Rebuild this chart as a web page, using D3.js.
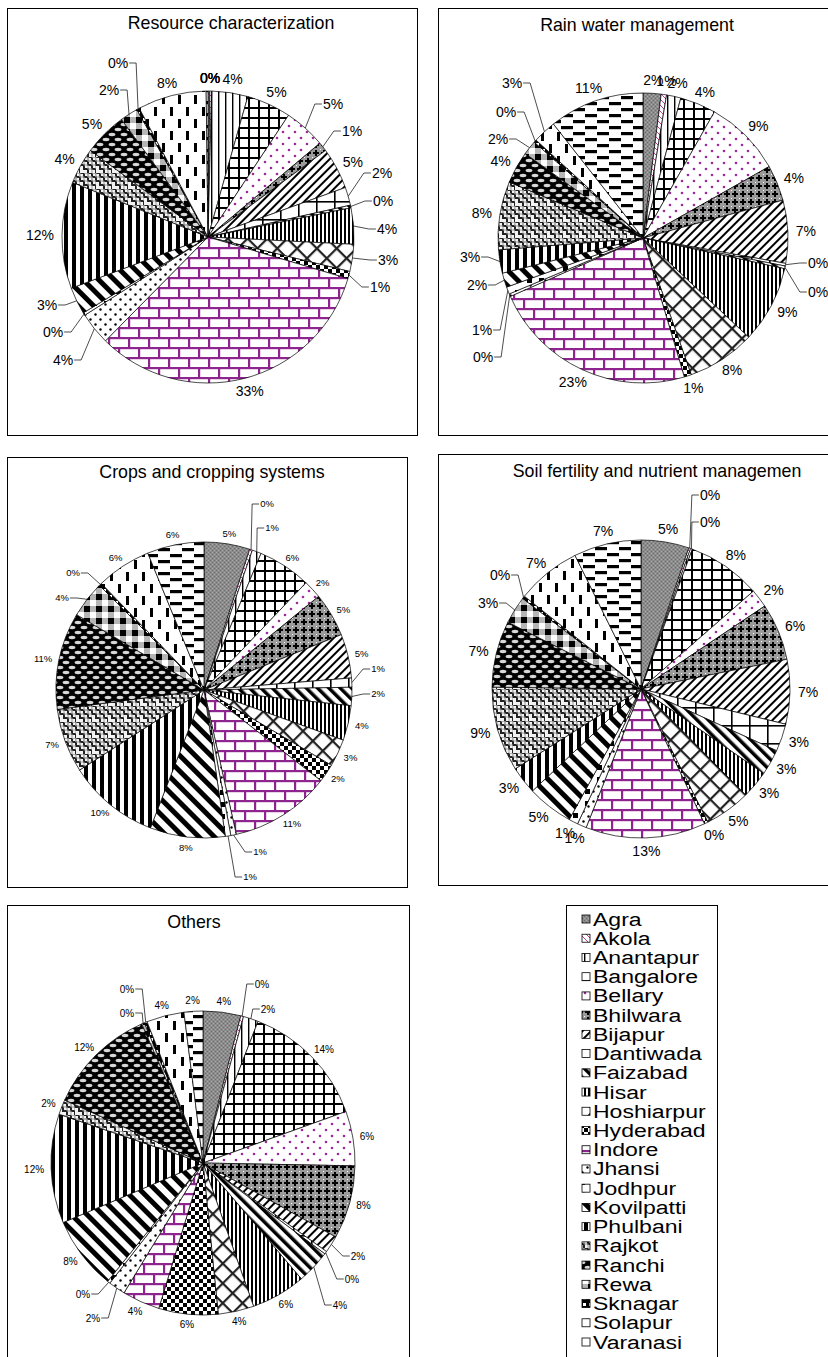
<!DOCTYPE html>
<html>
<head>
<meta charset="utf-8">
<script src="https://cdn.jsdelivr.net/npm/d3@7"></script>
<style>
  body { margin: 0; background: #fff; }
  svg { display: block; }
  text { font-family: "Liberation Sans", Arial, sans-serif; fill: #000; }
</style>
</head>
<body>
<svg id="chart" width="828" height="1357"></svg>
<script>
// Research stations (legend order = slice order, clockwise from 12 o'clock)
const categories = [
  "Agra", "Akola", "Anantapur", "Bangalore", "Bellary", "Bhilwara", "Bijapur",
  "Dantiwada", "Faizabad", "Hisar", "Hoshiarpur", "Hyderabad", "Indore", "Jhansi",
  "Jodhpur", "Kovilpatti", "Phulbani", "Rajkot", "Ranchi", "Rewa", "Sknagar",
  "Solapur", "Varanasi"
];

const chartTitles = [
  "Resource characterization",
  "Rain water management",
  "Crops and cropping systems",
  "Soil fertility and nutrient managemen",
  "Others"
];

// Share of each station (%) per theme
const resourceShares = [0.2, 0.2, 4.0, 4.9, 4.6, 1.0, 4.6, 2.0, 0.3, 4.0, 3.0, 0.8, 32.8, 3.6, 0.3, 3.0, 11.8, 4.0, 4.8, 2.0, 0.3, 7.6, 0.2];
const rainWaterShares = [2.0, 0.6, 1.6, 4.0, 8.6, 4.0, 7.0, 0.3, 0.3, 8.6, 7.6, 0.8, 23.0, 0.3, 0.8, 1.6, 2.6, 7.6, 3.6, 1.6, 0.3, 2.6, 10.6];
const cropShares      = [5.0, 0.3, 1.0, 5.8, 2.0, 4.8, 4.8, 1.0, 2.0, 3.8, 3.0, 2.0, 11.0, 0.6, 0.6, 8.2, 10.0, 7.0, 10.6, 4.0, 0.3, 6.0, 6.2];
const soilShares      = [5.2, 0.2, 0.2, 8.0, 2.0, 6.2, 7.0, 3.0, 2.8, 3.0, 5.0, 0.4, 13.0, 1.0, 1.0, 5.0, 3.0, 9.2, 7.2, 3.0, 0.3, 7.0, 7.3];
const otherShares     = [4.0, 0.3, 1.6, 13.6, 5.8, 7.8, 1.8, 0.3, 3.6, 5.8, 3.8, 6.3, 4.0, 1.8, 0.3, 7.8, 11.6, 1.6, 11.6, 0.3, 0.3, 4.0, 2.0];

const svg = d3.select("#chart");
const defs = svg.append("defs");

// ---------- fill patterns, one per station ----------
function pattern(name, w, h, draw, transform) {
  const p = defs.append("pattern")
    .attr("id", "pat-" + name)
    .attr("patternUnits", "userSpaceOnUse")
    .attr("width", w).attr("height", h);
  if (transform) p.attr("patternTransform", transform);
  draw(p);
}
const bg = (p, w, h, c) => p.append("rect").attr("width", w).attr("height", h).attr("fill", c);
const box = (p, x, y, w, h, c) => p.append("rect").attr("x", x).attr("y", y).attr("width", w).attr("height", h).attr("fill", c);
const dot = (p, x, y, r, c) => p.append("circle").attr("cx", x).attr("cy", y).attr("r", r).attr("fill", c);
const PURPLE = "#8e248e";

pattern("Agra", 4, 4, p => { bg(p, 4, 4, "#8c8c8c"); box(p, 0, 0, 1, 1, "#6a6a6a"); box(p, 2, 2, 1, 1, "#6a6a6a"); box(p, 2, 0, 1, 1, "#a8a8a8"); box(p, 0, 2, 1, 1, "#a8a8a8"); });
pattern("Akola", 6, 6, p => { bg(p, 6, 6, "#fff"); p.append("path").attr("d", "M0,0L6,6").attr("stroke", "#c03a9a").attr("stroke-width", 1); });
pattern("Anantapur", 7, 7, p => { bg(p, 7, 7, "#fff"); box(p, 3, 0, 1.4, 7, "#000"); });
pattern("Bangalore", 10, 10, p => { bg(p, 10, 10, "#fff"); box(p, 0, 0, 10, 2, "#000"); box(p, 0, 0, 2, 10, "#000"); });
pattern("Bellary", 12, 12, p => { bg(p, 12, 12, "#fff"); dot(p, 3, 3, 1.3, "#9c2a9c"); dot(p, 9, 9, 1.3, "#9c2a9c"); });
pattern("Bhilwara", 8, 8, p => { bg(p, 8, 8, "#9a9a9a"); box(p, 3, 1, 2, 6, "#000"); box(p, 1, 3, 6, 2, "#000"); box(p, 0, 0, 1, 1, "#fff"); });
pattern("Bijapur", 6, 6, p => { bg(p, 6, 6, "#fff"); box(p, 0, 0, 2, 6, "#000"); }, "rotate(45)");
pattern("Dantiwada", 18, 18, p => { bg(p, 18, 18, "#fff"); box(p, 0, 0, 18, 1.6, "#000"); box(p, 0, 0, 1.6, 18, "#000"); });
pattern("Faizabad", 8, 8, p => { bg(p, 8, 8, "#fff"); box(p, 0, 0, 3.5, 8, "#000"); }, "rotate(-45)");
pattern("Hisar", 4, 4, p => { bg(p, 4, 4, "#fff"); box(p, 0, 0, 2, 4, "#000"); });
pattern("Hoshiarpur", 14, 14, p => { bg(p, 14, 14, "#fff"); box(p, 0, 0, 14, 2.2, "#222"); box(p, 0, 0, 2.2, 14, "#222"); }, "rotate(45)");
pattern("Hyderabad", 8, 8, p => { bg(p, 8, 8, "#fff"); box(p, 0, 0, 4, 4, "#000"); box(p, 4, 4, 4, 4, "#000"); });
pattern("Indore", 20, 20, p => {
  bg(p, 20, 20, "#fff");
  box(p, 0, 0, 20, 2.2, PURPLE); box(p, 0, 10, 20, 2.2, PURPLE);
  box(p, 0, 0, 2.2, 10, PURPLE); box(p, 10, 10, 2.2, 10, PURPLE);
});
pattern("Jhansi", 10, 10, p => { bg(p, 10, 10, "#fff"); dot(p, 2.5, 2.5, 1.2, "#000"); dot(p, 7.5, 7.5, 1.2, "#000"); });
pattern("Jodhpur", 12, 12, p => { bg(p, 12, 12, "#fff"); box(p, 4, 4, 5, 5, "#000"); });
pattern("Kovilpatti", 11, 11, p => { bg(p, 11, 11, "#fff"); box(p, 0, 0, 5, 11, "#000"); }, "rotate(-45)");
pattern("Phulbani", 8, 8, p => { bg(p, 8, 8, "#fff"); box(p, 0, 0, 4, 8, "#000"); });
pattern("Rajkot", 16, 16, p => {
  bg(p, 16, 16, "#f2f2f2");
  const stair = "h4v4h4v4h4v4h4v4";
  ["M0,0", "M-8,0", "M8,0", "M0,-8", "M-8,-8", "M8,-8"].forEach(s =>
    p.append("path").attr("d", s + stair).attr("fill", "none").attr("stroke", "#222").attr("stroke-width", 2));
  ["M4,0", "M-4,0", "M12,0", "M-4,-8", "M4,-8"].forEach(s =>
    p.append("path").attr("d", s + stair).attr("fill", "none").attr("stroke", "#9a9a9a").attr("stroke-width", 1));
});
pattern("Ranchi", 12, 10, p => {
  bg(p, 12, 10, "#000");
  [[6, 2.5], [0, 7.5], [12, 7.5]].forEach(([x, y]) =>
    p.append("ellipse").attr("cx", x).attr("cy", y).attr("rx", 3.4).attr("ry", 1.7).attr("fill", "#d8d8d8"));
});
pattern("Rewa", 12, 12, p => { bg(p, 12, 12, "#b5b5b5"); box(p, 0, 0, 6, 6, "#000"); box(p, 6, 6, 6, 6, "#fff"); });
pattern("Sknagar", 6, 6, p => { bg(p, 6, 6, "#000"); box(p, 1, 1, 3, 3, "#fff"); });
pattern("Solapur", 16, 24, p => { bg(p, 16, 24, "#fff"); box(p, 2, 2, 3, 9, "#000"); box(p, 10, 14, 3, 9, "#000"); });
pattern("Varanasi", 24, 12, p => { bg(p, 24, 12, "#fff"); box(p, 2, 2, 12, 3.2, "#000"); box(p, 14, 8, 12, 3.2, "#000"); box(p, -10, 8, 12, 3.2, "#000"); });

// ---------- panel layout ----------
// "leaders": labels moved off their slice, joined by a leader line.
// "spots": labels placed at a fixed spot without a leader line.
const panels = [
  { title: chartTitles[0], values: resourceShares, frame: [7, 8, 410, 427], tx: 231, ty: 29,
    cx: 208, cy: 237, r: 146, font: 14, pad: 8,
    spots: { Agra: [210, 78], Akola: [210, 78], Varanasi: [210, 78] },
    leaders: { Sknagar: [118, 63], Rewa: [109, 90], Bellary: [333, 104], Bhilwara: [352, 131],
      Dantiwada: [382, 173], Faizabad: [383, 201], Hisar: [387, 229], Hoshiarpur: [388, 260],
      Hyderabad: [380, 287], Kovilpatti: [47, 305], Jodhpur: [53, 332], Jhansi: [63, 360] } },
  { title: chartTitles[1], values: rainWaterShares, frame: [438, 8, 420, 427], tx: 637, ty: 31,
    cx: 643, cy: 238, r: 145, font: 14, pad: 8,
    spots: {},
    leaders: { Solapur: [512, 83], Sknagar: [506, 112], Rewa: [498, 139], Phulbani: [470, 257],
      Kovilpatti: [477, 285], Jodhpur: [482, 330], Jhansi: [483, 357], Dantiwada: [818, 263],
      Faizabad: [818, 292] } },
  { title: chartTitles[2], values: cropShares, frame: [7, 457, 400, 430], tx: 212, ty: 478,
    cx: 204, cy: 690, r: 148, font: 9.5, pad: 7,
    spots: {},
    leaders: { Akola: [267, 504], Anantapur: [272, 528], Dantiwada: [378, 669], Faizabad: [378, 694],
      Jhansi: [260, 852], Jodhpur: [250, 877], Sknagar: [73, 573], Rewa: [62, 598] } },
  { title: chartTitles[3], values: soilShares, frame: [438, 454, 420, 431], tx: 657, ty: 477,
    cx: 641, cy: 689, r: 149, font: 14, pad: 8,
    spots: {},
    leaders: { Akola: [710, 495], Anantapur: [710, 522], Sknagar: [500, 575], Rewa: [488, 603] } },
  { title: chartTitles[4], values: otherShares, frame: [7, 905, 402, 470], tx: 194, ty: 928,
    cx: 203, cy: 1163, r: 152, font: 10, pad: 7,
    spots: {},
    leaders: { Akola: [262, 984], Anantapur: [268, 1009], Bijapur: [358, 1256], Dantiwada: [352, 1279],
      Faizabad: [340, 1305], Jodhpur: [83, 1294], Jhansi: [93, 1318], Sknagar: [127, 989], Rewa: [127, 1013] } }
];

const pie = d3.pie().sort(null).value(d => d.value);
const pct = v => Math.round(v) + "%";

panels.forEach(p => {
  const g = svg.append("g");
  const [fx, fy, fw, fh] = p.frame;
  g.append("rect").attr("x", fx + 0.5).attr("y", fy + 0.5).attr("width", fw).attr("height", fh)
    .attr("fill", "none").attr("stroke", "#000").attr("stroke-width", 1);
  g.append("text").attr("x", p.tx).attr("y", p.ty).attr("text-anchor", "middle")
    .attr("font-size", 17.8).text(p.title);

  const data = categories.map((name, i) => ({ name, value: p.values[i] }));
  const arcs = pie(data);
  const arc = d3.arc().innerRadius(0).outerRadius(p.r);
  const pg = g.append("g").attr("transform", `translate(${p.cx},${p.cy})`);

  pg.selectAll("path.slice").data(arcs).join("path")
    .attr("class", "slice")
    .attr("d", arc)
    .attr("fill", d => `url(#pat-${d.data.name})`)
    .attr("stroke", "#000").attr("stroke-width", 0.7).attr("stroke-linejoin", "round");

  const lab = pg.append("g");
  arcs.forEach(d => {
    const a = (d.startAngle + d.endAngle) / 2;
    const sa = Math.sin(a), ca = -Math.cos(a);
    const t = lab.append("text").attr("text-anchor", "middle").attr("dy", "0.35em")
      .attr("font-size", p.font).text(pct(d.data.value));
    const w = t.node().getComputedTextLength();
    const h = p.font * 0.75;
    let lx, ly;
    const fixed = p.leaders[d.data.name];
    const spot = p.spots[d.data.name];
    if (fixed) {
      lx = fixed[0] - p.cx; ly = fixed[1] - p.cy;
      const px = p.r * sa, py = p.r * ca;
      const ax = lx < px ? lx + w / 2 + 1 : lx - w / 2 - 1;
      const bx = lx < px ? ax + 7 : ax - 7;
      lab.append("polyline")
        .attr("points", `${ax},${ly} ${bx},${ly} ${px},${py}`)
        .attr("fill", "none").attr("stroke", "#000").attr("stroke-width", 0.7);
    } else if (spot) {
      lx = spot[0] - p.cx; ly = spot[1] - p.cy;
    } else {
      lx = (p.r + p.pad) * sa + (w / 2) * sa;
      ly = (p.r + p.pad) * ca + (h / 2) * ca;
    }
    t.attr("x", lx).attr("y", ly);
  });
});

// ---------- legend ----------
const lg = svg.append("g");
lg.append("rect").attr("x", 566.5).attr("y", 905.5).attr("width", 151).attr("height", 470)
  .attr("fill", "#fff").attr("stroke", "#000").attr("stroke-width", 1);
const rowY = d3.scalePoint().domain(categories).range([919, 1342]);
categories.forEach(name => {
  const y = rowY(name);
  lg.append("rect").attr("x", 582).attr("y", y - 4).attr("width", 8).attr("height", 8)
    .attr("fill", `url(#pat-${name})`).attr("stroke", "#000").attr("stroke-width", 0.8);
  lg.append("text").attr("transform", `translate(593,${y + 6.5}) scale(1.28,1)`)
    .attr("font-size", 18).text(name);
});
</script>
</body>
</html>
